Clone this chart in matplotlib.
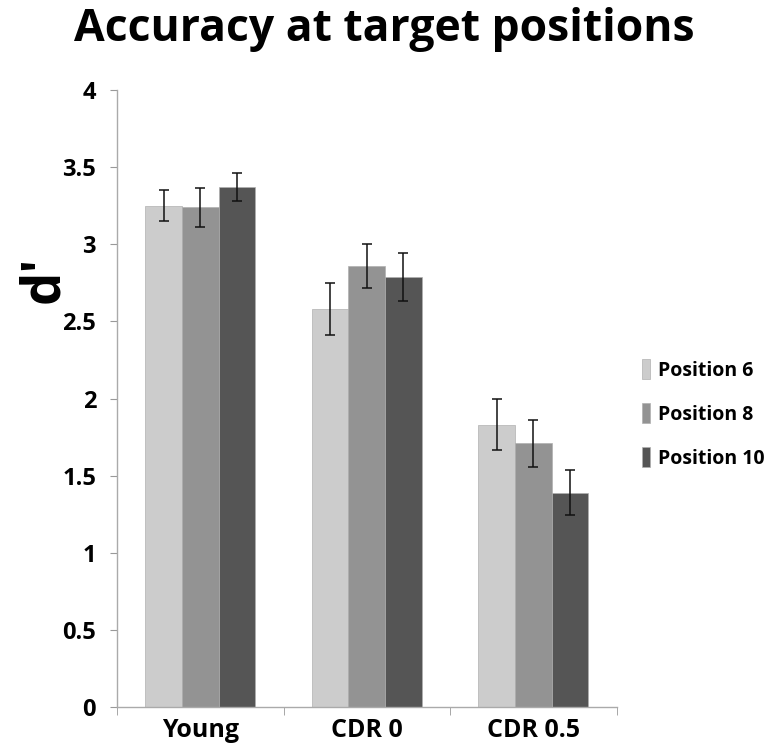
import matplotlib.pyplot as plt
import numpy as np

groups = ['Young', 'CDR 0', 'CDR 0.5']
series = ['Position 6', 'Position 8', 'Position 10']
dprime = [
    [3.25, 3.24, 3.37],   # Position 6 / 8 / 10 for Young
    [2.58, 2.86, 2.79],   # CDR 0
    [1.83, 1.71, 1.39],   # CDR 0.5
]
sem = [
    [0.10, 0.125, 0.09],
    [0.17, 0.145, 0.155],
    [0.165, 0.15, 0.145],
]
colors = ['#cccccc', '#939393', '#555555']

plt.rcParams['font.family'] = ['Open Sans', 'DejaVu Sans']

fig = plt.figure(figsize=(7.69, 7.5), dpi=100)
ax = fig.add_axes([0.152, 0.057, 0.65, 0.823])

vals = np.array(dprime)
errs = np.array(sem)
x = np.arange(len(groups))
w = 0.22
for i, name in enumerate(series):
    ax.bar(x + (i - 1) * w, vals[:, i], w, color=colors[i], edgecolor='#b0b0b0',
           linewidth=0.5, label=name, yerr=errs[:, i], capsize=3.5,
           error_kw=dict(elinewidth=1.1, capthick=1.1, ecolor='#111111'))

ax.set_ylim(0, 4)
ax.set_xlim(-0.5, 2.5)
ax.set_yticks(np.arange(0, 4.01, 0.5))
ax.set_yticklabels(['0', '0.5', '1', '1.5', '2', '2.5', '3', '3.5', '4'],
                   fontsize=17, fontweight='bold')
ax.set_xticks(x)
ax.set_xticklabels(groups, fontsize=18, fontweight='bold')
ax.set_xticks([-0.5, 0.5, 1.5, 2.5], minor=True)
ax.tick_params(axis='x', which='major', length=0, pad=8)
ax.tick_params(axis='x', which='minor', length=6, color='#999999', direction='out')
ax.tick_params(axis='y', length=5, color='#999999', pad=10)

for s in ['top', 'right']:
    ax.spines[s].set_visible(False)
for s in ['left', 'bottom']:
    ax.spines[s].set_color('#aaaaaa')
    ax.spines[s].set_linewidth(1)

# y label placed by hand so it stays inside the figure
fig.text(0.058, 0.627, 'd\u2032', rotation=90, fontsize=38, fontweight='bold',
         ha='center', va='center')

fig.suptitle('Accuracy at target positions', fontsize=32, fontweight='bold', y=0.99)

ax.legend(loc='center left', bbox_to_anchor=(1.05, 0.475), frameon=False,
          borderaxespad=0, borderpad=0,
          prop=dict(size=14, weight='bold'), handlelength=0.45, handleheight=1.2,
          handletextpad=0.4, labelspacing=1.15)

fig.savefig('out.png', dpi=100)
